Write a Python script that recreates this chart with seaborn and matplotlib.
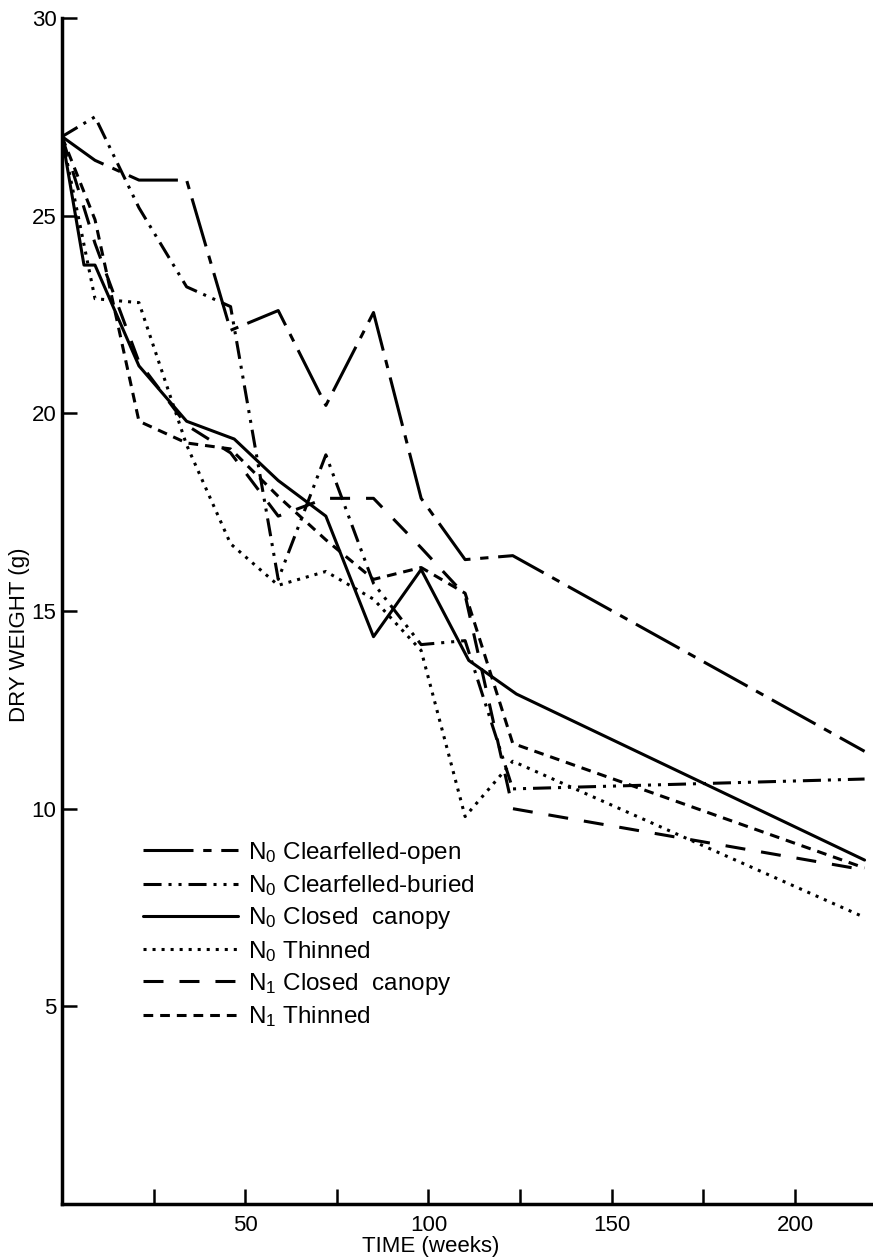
import matplotlib
matplotlib.use("Agg")
import matplotlib.pyplot as plt
import seaborn as sns
import pandas as pd

# ---------------- data ----------------
series_labels = [
    "N$_0$ Clearfelled-open",
    "N$_0$ Clearfelled-buried",
    "N$_0$ Closed  canopy",
    "N$_0$ Thinned",
    "N$_1$ Closed  canopy",
    "N$_1$ Thinned",
]

times = [0, 9, 21, 34, 46, 59, 72, 85, 98, 110, 123, 219]
times_n0_closed = [0, 6, 9, 21, 34, 47, 59, 72, 85, 98, 111, 124, 219]

n0_clearfelled_open = [27.0, 26.4, 25.9, 25.9, 22.1, 22.6, 20.2, 22.55, 17.85, 16.3, 16.4, 11.45]
n0_clearfelled_buried = [27.0, 27.5, 25.2, 23.2, 22.7, 15.8, 18.95, 15.7, 14.15, 14.25, 10.5, 10.75]
n0_closed_canopy = [27.0, 23.75, 23.75, 21.2, 19.8, 19.35, 18.3, 17.4, 14.35, 16.05, 13.75, 12.9, 8.7]
n0_thinned = [27.0, 22.9, 22.8, 19.2, 16.7, 15.65, 16.0, 15.3, 14.0, 9.8, 11.2, 7.25]
n1_closed_canopy = [27.0, 24.3, 21.3, 19.7, 19.0, 17.4, 17.85, 17.85, 16.6, 15.4, 10.0, 8.45]
n1_thinned = [27.0, 24.9, 19.8, 19.25, 19.1, 17.9, 16.8, 15.8, 16.1, 15.45, 11.65, 8.5]

x_ticks = [25, 50, 75, 100, 125, 150, 175, 200]
x_tick_labels = ["", "50", "", "100", "", "150", "", "200"]
y_ticks = [5, 10, 15, 20, 25, 30]

# ---------------- long-form table ----------------
parts = [
    (series_labels[0], times, n0_clearfelled_open),
    (series_labels[1], times, n0_clearfelled_buried),
    (series_labels[2], times_n0_closed, n0_closed_canopy),
    (series_labels[3], times, n0_thinned),
    (series_labels[4], times, n1_closed_canopy),
    (series_labels[5], times, n1_thinned),
]
df = pd.concat(
    [pd.DataFrame({"time": t, "weight": v, "series": name}) for name, t, v in parts],
    ignore_index=True,
)

# ---------------- style ----------------
sns.set_theme(style="white")
plt.rcParams["font.family"] = ["Liberation Sans", "DejaVu Sans"]
plt.rcParams["mathtext.default"] = "regular"
plt.rcParams["lines.scale_dashes"] = False
plt.rcParams["text.color"] = "black"
plt.rcParams["axes.labelcolor"] = "black"
plt.rcParams["xtick.color"] = "black"
plt.rcParams["ytick.color"] = "black"

dash_map = {
    series_labels[0]: (36, 7, 6, 7),
    series_labels[1]: (13, 5, 2.2, 5, 2.2, 5),
    series_labels[2]: "",
    series_labels[3]: (2.2, 4.3),
    series_labels[4]: (14.4, 11.5),
    series_labels[5]: (7, 5),
}

W, H = 873, 1258
fig = plt.figure(figsize=(W / 100, H / 100), dpi=100)
ax = fig.add_axes([62 / W, 54 / H, 811 / W, 1186 / H])

sns.lineplot(
    data=df, x="time", y="weight", style="series", style_order=series_labels,
    dashes=dash_map, color="black", linewidth=2.2, sort=False, estimator=None,
    ax=ax, legend=True,
)

ax.set_xlim(0, 221.3)
ax.set_ylim(0, 30)

for s in ["top", "right"]:
    ax.spines[s].set_visible(False)
for s in ["left", "bottom"]:
    ax.spines[s].set_linewidth(2.5)
    ax.spines[s].set_color("black")

ax.set_xticks(x_ticks)
ax.set_xticklabels(x_tick_labels)
ax.set_yticks(y_ticks)
ax.set_yticklabels([str(v) for v in y_ticks])
ax.tick_params(axis="y", direction="in", length=11, width=1.8, pad=4,
               labelsize=16, colors="black", left=True)
ax.tick_params(axis="x", direction="in", length=11, width=1.8, pad=8,
               labelsize=16, colors="black", bottom=True)

ax.set_xlabel("TIME (weeks)", fontsize=16, color="black")
ax.set_ylabel("DRY WEIGHT (g)", fontsize=16, color="black")
ax.xaxis.set_label_coords(0.454, -0.027)
ax.yaxis.set_label_coords(-0.040, 0.48)

handles, labels = ax.get_legend_handles_labels()
leg = ax.legend(
    handles, labels, loc="upper left",
    bbox_to_anchor=(143 / W, 1 - 840 / H), bbox_transform=fig.transFigure,
    frameon=False, fontsize=17.5, handlelength=3.9, handletextpad=0.4,
    labelspacing=0.3, borderaxespad=0, borderpad=0,
)
for ln in leg.get_lines():
    ln.set_linewidth(2.2)
    ln.set_color("black")
for t in leg.get_texts():
    t.set_color("black")

fig.savefig("out.png", dpi=100)
